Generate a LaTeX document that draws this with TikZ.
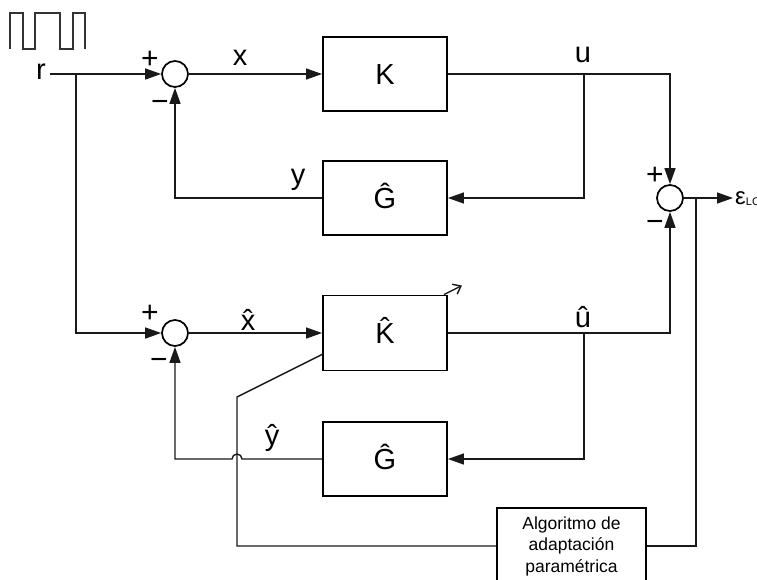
\documentclass[tikz,border=0pt]{standalone}
\usepackage{fontspec}
\setmainfont{Liberation Sans}
\usetikzlibrary{arrows.meta}
\begin{document}
\begin{tikzpicture}[x=1pt,y=-1pt,
 conn/.style={line width=1.4pt, black!90},
 arr/.style={conn, -{Triangle[length=16pt,width=11pt]}},
 blk/.style={draw, line width=1.9pt, minimum width=124pt, minimum height=74pt, inner sep=0pt,
   font=\fontsize{29}{33}\selectfont, text height=20.8pt, text depth=0pt},
 sumnode/.style={draw, circle, line width=1.7pt, minimum size=26pt, inner sep=0pt},
 lbl/.style={anchor=base, inner sep=0pt, font=\fontsize{29}{33}\selectfont},
 sgn/.style={anchor=base, inner sep=0pt, font=\fontsize{30}{34}\selectfont}]
\useasboundingbox (0,0) rectangle (757,579);

% square wave
\draw[line width=1.3pt, black!80] (10,49) -- (10,13) -- (23,13) -- (23,49) -- (35,49) -- (35,13)
  -- (60,13) -- (60,49) -- (73,49) -- (73,13) -- (85,13) -- (85,49);

% nodes
\node[sumnode] (s1) at (175,74) {};
\node[sumnode] (s3) at (175,333) {};
\node[sumnode] (s2) at (670,198) {};
\node[blk] (K) at (385,74) {K};
\node[blk] (G1) at (385,198) {\^{G}};
\node[blk, minimum height=75pt] (Kh) at (385,333) {\^{K}};
\node[blk] (G2) at (385,459) {\^{G}};
\node[draw, line width=1.9pt, minimum width=149pt, minimum height=76pt, inner sep=0pt,
  align=center, font=\fontsize{17.5}{21.5}\selectfont] (alg) at (571.5,546)
  {Algoritmo de\\adaptación\\paramétrica};

% labels
\node[lbl] (lr) at (41,79) {r};
\node[lbl] (lx) at (240,65) {x};
\node[lbl] (lu) at (583,62) {u};
\node[lbl] (ly) at (298,184) {y};
\node[lbl] (lxh) at (248,330) {\^{x}};
\node[lbl] (luh) at (583,327) {\^{u}};
\node[lbl] (lyh) at (272,445) {\^{y}};
\node[anchor=base west, inner sep=0pt] (eps) at (735,204)
  {\fontsize{24}{27}\selectfont ε\raisebox{-1pt}{\fontsize{11}{13}\selectfont LC}};

% signs
\node[sgn] (p1) at (150,68) {+};
\node[sgn] (m1) at (160,111) {−};
\node[sgn] (p3) at (150,322) {+};
\node[sgn] (m3) at (159,369) {−};
\node[sgn] (p2) at (655,184) {+};
\node[sgn] (m2) at (655,231) {−};

% coordinates
\coordinate (rin) at (50,74);
\coordinate (br) at (76,74);
\coordinate (ub) at (584,74);
\coordinate (ubh) at (584,333);
\coordinate (eb) at (696,198);
\coordinate (epsin) at (733,198);
\coordinate (ka) at (323,354);
\coordinate (kb) at (237,397);
\coordinate (hopR) at (242,459);

% top loop
\draw[arr] (rin) -- (s1);
\draw[arr] (br) |- (s3);
\draw[arr] (s1) -- (K);
\draw[arr] (K.east) -| (s2.north);
\draw[arr] (ub) |- (G1.east);
\draw[arr] (G1.west) -| (s1.south);

% bottom loop
\draw[arr] (s3) -- (Kh);
\draw[arr] (Kh.east) -| (s2.south);
\draw[arr] (ubh) |- (G2.east);
\draw[arr] (G2.west) -- (hopR) arc[start angle=0, end angle=180, radius=5pt] -- (s3.south |- G2.west) -- (s3.south);

% output
\draw[arr] (s2) -- (epsin);
\draw[conn] (alg.east) -| (eb);

% adaptation path
\draw[conn] (ka) -- (kb) -- (kb |- alg.west) -- (alg.west);
\draw[conn, -{Straight Barb[length=7pt,width=11pt]}] ([xshift=-4pt]Kh.north east) -- ++(18,-9);
\end{tikzpicture}
\end{document}
